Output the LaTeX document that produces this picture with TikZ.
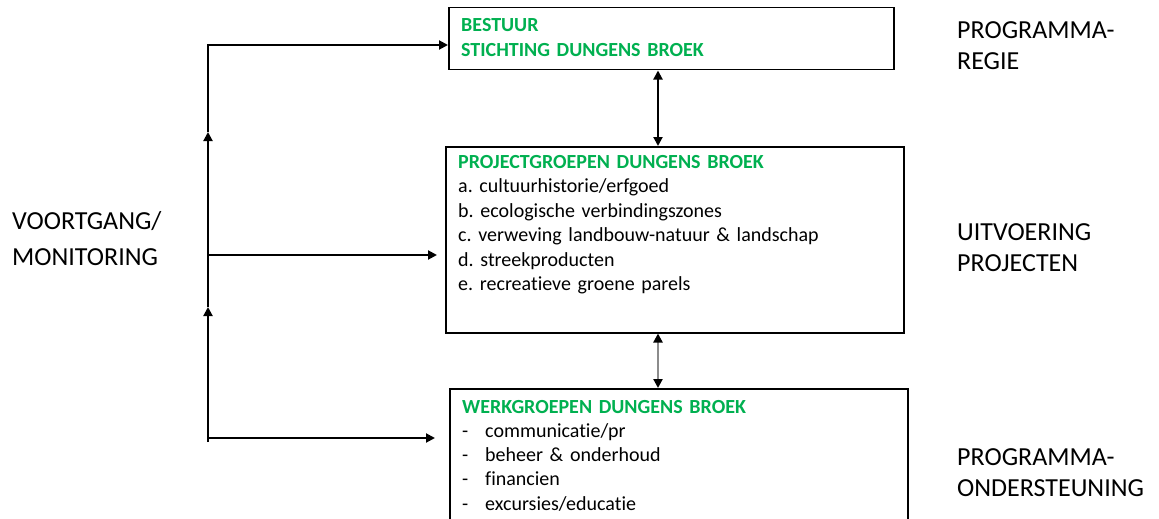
\documentclass[tikz,border=0pt]{standalone}
\usepackage{fontspec}
\setmainfont{Carlito}[Ligatures=NoCommon]
\usetikzlibrary{arrows.meta}
\definecolor{grn}{HTML}{00B050}
\frenchspacing
\begin{document}
\begin{tikzpicture}[x=1pt,y=-1pt,
  box/.style={draw, line width=1.5pt, inner sep=0pt, anchor=north west},
  boxtext/.style={anchor=base west, inner sep=0pt, align=left, text width=430pt, font=\fontsize{20}{24.5}\selectfont},
  label/.style={anchor=base west, inner sep=0pt, align=left, text width=200pt, font=\fontsize{26}{31}\selectfont},
  conn/.style={line width=2pt, -{Triangle[length=9pt,width=9pt]}},
  plain/.style={line width=2pt},
  both/.style={line width=2pt, {Triangle[length=9pt,width=9pt]}-{Triangle[length=9pt,width=9pt]}},
  grayboth/.style={line width=2.5pt, draw=black!45, {Triangle[length=9pt,width=9pt,black]}-{Triangle[length=9pt,width=9pt,black]}}]
\clip (0,0) rectangle (1159,519);
\fill[white] (0,0) rectangle (1159,519);

% boxes
\node[box, minimum width=445pt, minimum height=62pt] (bestuur) at (448,7) {};
\node[box, minimum width=458pt, minimum height=186pt] (project) at (445,146) {};
\node[box, minimum width=458pt, minimum height=140pt] (werk) at (449,388) {};

% box texts
\node[boxtext] (bestuurtxt) at (461,32) {{\color{grn}\bfseries BESTUUR}\\{\color{grn}\bfseries STICHTING DUNGENS BROEK}};
\node[boxtext] (projecttxt) at (458,168) {{\color{grn}\bfseries PROJECTGROEPEN DUNGENS BROEK}\\
a. cultuurhistorie/erfgoed\\
b. ecologische verbindingszones\\
c. verweving landbouw-natuur \& landschap\\
d. streekproducten\\
e. recreatieve groene parels};
\node[boxtext, font=\fontsize{20}{24.3}\selectfont] (werktxt) at (462,413) {{\color{grn}\bfseries WERKGROEPEN DUNGENS BROEK}\\
\makebox[23pt][l]{-}communicatie/pr\\
\makebox[23pt][l]{-}beheer \& onderhoud\\
\makebox[23pt][l]{-}financien\\
\makebox[23pt][l]{-}excursies/educatie};

% side labels
\node[label, font=\fontsize{26}{36}\selectfont] (voortgang) at (12,229) {VOORTGANG/\\MONITORING};
\node[label] (regie) at (957,39) {PROGRAMMA-\\REGIE};
\node[label] (uitvoering) at (957,240) {UITVOERING\\PROJECTEN};
\node[label] (ondersteuning) at (957,465) {PROGRAMMA-\\ONDERSTEUNING};

% spine coordinates
\coordinate (vx) at (658,0);
\coordinate (lt) at (208,45);
\coordinate (lm) at (208,255);
\coordinate (lb) at (208,438);
\coordinate (lend) at (208,442);
\coordinate (up1) at (208,132);
\coordinate (up2) at (208,307);

% vertical links between boxes
\draw[both] (bestuur.south -| vx) -- (project.north -| vx);
\draw[grayboth] (project.south -| vx) -- (werk.north -| vx);

% monitoring spine
\draw[conn] (lend) -- (up2);
\draw[conn] (up2) -- (up1);
\draw[plain] (up1) -- ([yshift=1pt]lt);
\draw[conn] ([xshift=-1pt]lt) -- (bestuur.west |- lt);
\draw[conn, shorten >=8pt] (lm) -- (project.west |- lm);
\draw[conn, shorten >=14pt] (lb) -- (werk.west |- lb);
\end{tikzpicture}
\end{document}
